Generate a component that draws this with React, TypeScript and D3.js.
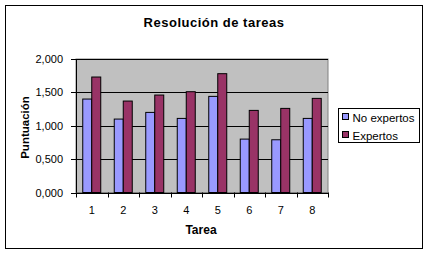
import React from "react";
import * as d3 from "d3";

const categories = ["1", "2", "3", "4", "5", "6", "7", "8"];
const seriesNames = ["No expertos", "Expertos"];
const noExpertos = [1.40, 1.10, 1.20, 1.11, 1.44, 0.80, 0.79, 1.11];
const expertos = [1.73, 1.37, 1.46, 1.51, 1.78, 1.23, 1.26, 1.41];
const yTicks = [0, 0.5, 1, 1.5, 2];
const colors = ["#9999FF", "#993366"];

const W = 428;
const H = 255;
const plot = { left: 76, right: 328, top: 59, bottom: 192.5 };
const FONT = "Arial, 'Liberation Sans', sans-serif";

export default function App() {
  const x = d3
    .scaleBand<string>()
    .domain(categories)
    .range([plot.left, plot.right])
    .paddingInner(0)
    .paddingOuter(0);
  const gap = 1.5;
  const barW = x.bandwidth() / (seriesNames.length + gap);
  const y = d3.scaleLinear().domain([0, 2]).range([plot.bottom, plot.top]);
  const fmt = (v: number) => d3.format(".3f")(v).replace(".", ",");
  const series = [noExpertos, expertos];

  return (
    <svg
      width={W}
      height={H}
      style={{ position: "absolute", left: 0, top: 0, background: "#fff" }}
      fontFamily={FONT}
    >
      <rect x={0} y={0} width={W} height={H} fill="#fff" />
      <rect x={5.5} y={5.5} width={417} height={243} fill="#fff" stroke="#000" strokeWidth={1} />
      <text
        x={214}
        y={26.5}
        textAnchor="middle"
        fontSize={13}
        fontWeight="bold"
        letterSpacing={0.5}
        fill="#000"
      >
        Resolución de tareas
      </text>

      <rect
        x={plot.left}
        y={plot.top}
        width={plot.right - plot.left}
        height={plot.bottom - plot.top}
        fill="#C0C0C0"
        stroke="#808080"
        strokeWidth={1}
      />
      {yTicks.slice(1).map((t) => (
        <line
          key={"g" + t}
          x1={plot.left}
          x2={plot.right}
          y1={Math.round(y(t)) + 0.5}
          y2={Math.round(y(t)) + 0.5}
          stroke="#000"
          strokeWidth={1}
        />
      ))}

      {categories.map((c, i) =>
        series.map((s, k) => {
          const x0 = (x(c) as number) + (x.bandwidth() - barW * series.length) / 2 + k * barW;
          return (
            <rect
              key={c + "-" + k}
              x={x0}
              y={y(s[i])}
              width={barW}
              height={y(0) - y(s[i])}
              fill={colors[k]}
              stroke="#000"
              strokeWidth={1}
            />
          );
        })
      )}

      {/* y axis */}
      <line x1={plot.left + 0.5} x2={plot.left + 0.5} y1={plot.top} y2={plot.bottom} stroke="#000" />
      {yTicks.map((t) => (
        <g key={"yt" + t}>
          <line
            x1={plot.left - 5}
            x2={plot.left}
            y1={Math.round(y(t)) + 0.5}
            y2={Math.round(y(t)) + 0.5}
            stroke="#000"
          />
          <text x={63} y={y(t) + 4} textAnchor="end" fontSize={11} fill="#000">
            {fmt(t)}
          </text>
        </g>
      ))}

      {/* x axis */}
      <line x1={plot.left} x2={plot.right} y1={Math.round(plot.bottom) + 0.5} y2={Math.round(plot.bottom) + 0.5} stroke="#000" />
      {[...categories.map((c) => x(c) as number), plot.right].map((v, i) => (
        <line
          key={"xt" + i}
          x1={Math.round(v) + 0.5}
          x2={Math.round(v) + 0.5}
          y1={plot.bottom}
          y2={plot.bottom + 5}
          stroke="#000"
        />
      ))}
      {categories.map((c) => (
        <text
          key={"xl" + c}
          x={(x(c) as number) + x.bandwidth() / 2}
          y={214}
          textAnchor="middle"
          fontSize={11}
          fill="#000"
        >
          {c}
        </text>
      ))}

      <text x={201} y={234} textAnchor="middle" fontSize={12} fontWeight="bold" fill="#000">
        Tarea
      </text>
      <text
        transform={`translate(29,127.5) rotate(-90)`}
        textAnchor="middle"
        fontSize={11.5}
        fontWeight="bold"
        fill="#000"
      >
        Puntuación
      </text>

      {/* legend */}
      <rect x={338.5} y={108.5} width={81} height={34} fill="#fff" stroke="#000" strokeWidth={1} />
      {seriesNames.map((n, k) => (
        <g key={n}>
          <rect
            x={342.5}
            y={113.5 + k * 18}
            width={6}
            height={6}
            fill={colors[k]}
            stroke="#000"
            strokeWidth={1}
          />
          <text x={352.5} y={121.5 + k * 18} fontSize={11.5} fill="#000">
            {n}
          </text>
        </g>
      ))}
    </svg>
  );
}
